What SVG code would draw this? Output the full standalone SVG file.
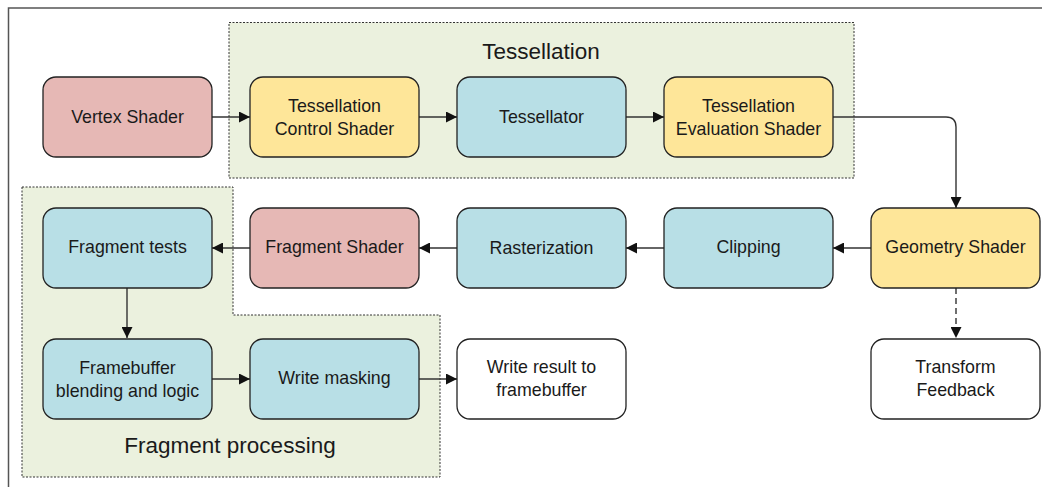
<svg xmlns="http://www.w3.org/2000/svg" width="1042" height="487" viewBox="0 0 1042 487">
<defs>
<marker id="ah" viewBox="0 0 10 10" refX="10" refY="5" markerWidth="11" markerHeight="11" markerUnits="userSpaceOnUse" orient="auto">
<path d="M0,0 L10,5 L0,10 z" fill="#111"/>
</marker>
<style>
text{font-family:"Liberation Sans",Arial,sans-serif;font-size:17.8px;fill:#1a1a1a;text-anchor:middle;dominant-baseline:central}
.big{font-size:22.5px}
.n{stroke:#222;stroke-width:1.3}
.pink{fill:#e6b8b5}
.yel{fill:#fee699}
.blue{fill:#b8dfe6}
.wht{fill:#fff}
.grp{fill:#ebf1de;stroke:#333;stroke-width:1;stroke-dasharray:2 1.5}
.c{fill:none;stroke:#333;stroke-width:1.4;marker-end:url(#ah)}
</style>
</defs>
<rect width="1042" height="487" fill="#fff"/>
<path d="M8.5,487 V8 H1042" fill="none" stroke="#555" stroke-width="1.5"/>
<g id="grp-tess">
<rect class="grp" x="229" y="22.5" width="625" height="155.5"/>
<text class="big" x="541" y="51">Tessellation</text>
</g>
<g id="grp-frag">
<path class="grp" d="M22,187 H233 V315 H440 V477 H22 Z"/>
<text class="big" x="230" y="445">Fragment processing</text>
</g>
<g id="connectors">
<path class="c" d="M212,117 H250"/>
<path class="c" d="M419,117 H457"/>
<path class="c" d="M626,117 H664"/>
<path class="c" d="M833,117 H946 Q956,117 956,127 V208"/>
<path class="c" d="M871,248 H833"/>
<path class="c" d="M956,288 V338" stroke-dasharray="6 4"/>
<path class="c" d="M664,248 H626"/>
<path class="c" d="M457,248 H419"/>
<path class="c" d="M250,248 H212"/>
<path class="c" d="M127,288 V338"/>
<path class="c" d="M212,379 H250"/>
<path class="c" d="M419,379 H457"/>
</g>
<g id="vertex"><rect class="n pink" x="43" y="77" width="169" height="80" rx="13"/><text x="127.5" y="117">Vertex Shader</text></g>
<g id="tcs"><rect class="n yel" x="250" y="77" width="169" height="80" rx="13"/><text x="334.5" y="105.5">Tessellation</text><text x="334.5" y="128.5">Control Shader</text></g>
<g id="tessellator"><rect class="n blue" x="457" y="77" width="169" height="80" rx="13"/><text x="541.5" y="117">Tessellator</text></g>
<g id="tes"><rect class="n yel" x="664" y="77" width="169" height="80" rx="13"/><text x="748.5" y="105.5">Tessellation</text><text x="748.5" y="128.5">Evaluation Shader</text></g>
<g id="geometry"><rect class="n yel" x="871" y="208" width="169" height="80" rx="13"/><text x="955.5" y="247">Geometry Shader</text></g>
<g id="clipping"><rect class="n blue" x="664" y="208" width="169" height="80" rx="13"/><text x="748.5" y="247">Clipping</text></g>
<g id="raster"><rect class="n blue" x="457" y="208" width="169" height="80" rx="13"/><text x="541.5" y="248">Rasterization</text></g>
<g id="fragshader"><rect class="n pink" x="250" y="208" width="169" height="80" rx="13"/><text x="334.5" y="247">Fragment Shader</text></g>
<g id="fragtests"><rect class="n blue" x="43" y="208" width="169" height="80" rx="13"/><text x="127.5" y="247">Fragment tests</text></g>
<g id="fbblend"><rect class="n blue" x="43" y="339" width="169" height="80" rx="13"/><text x="127.5" y="368">Framebuffer</text><text x="127.5" y="391">blending and logic</text></g>
<g id="writemask"><rect class="n blue" x="250" y="339" width="169" height="80" rx="13"/><text x="334.5" y="378">Write masking</text></g>
<g id="writeresult"><rect class="n wht" x="457" y="339" width="169" height="80" rx="13"/><text x="541.5" y="367">Write result to</text><text x="541.5" y="390">framebuffer</text></g>
<g id="transform"><rect class="n wht" x="871" y="339" width="169" height="80" rx="13"/><text x="955.5" y="367">Transform</text><text x="955.5" y="390">Feedback</text></g>
</svg>
